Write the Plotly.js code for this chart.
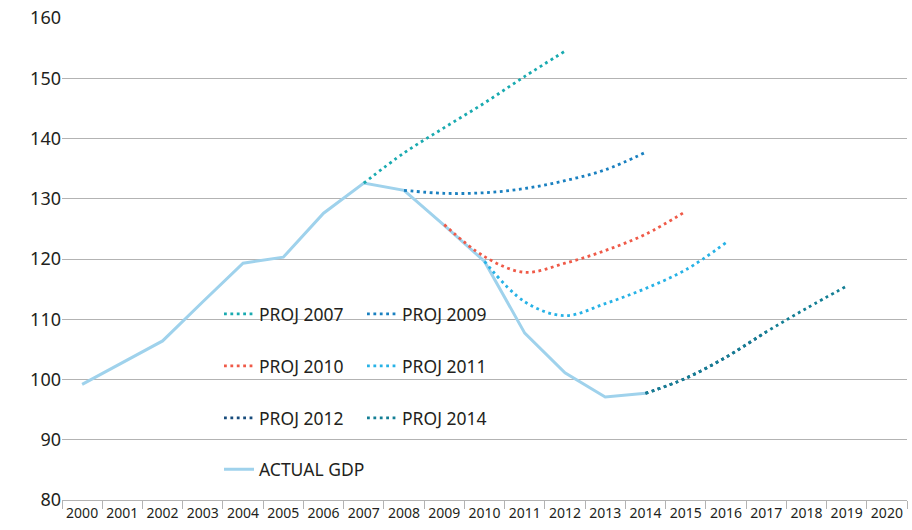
<!DOCTYPE html>
<html>
<head>
<meta charset="utf-8">
<script src="https://cdn.plot.ly/plotly-3.0.1.min.js"></script>
<style>html,body{margin:0;padding:0;background:#fff;}#chart{width:912px;height:530px;}</style>
</head>
<body>
<div id="chart"></div>
<script>
const years = ['2000','2001','2002','2003','2004','2005','2006','2007','2008','2009','2010','2011','2012','2013','2014','2015','2016','2017','2018','2019','2020'];

const actualYears = ['2000','2001','2002','2003','2004','2005','2006','2007','2008','2009','2010','2011','2012','2013','2014'];
const actualGDP   = [99.2, 102.8, 106.4, 112.9, 119.3, 120.3, 127.6, 132.6, 131.4, 125.6, 119.6, 107.7, 101.1, 97.1, 97.7];

const proj2007Years = ['2007','2008','2009','2010','2011','2012'];
const proj2007      = [132.6, 137.6, 141.8, 145.9, 150.3, 154.5];

const proj2009Years = ['2008','2009','2010','2011','2012','2013','2014'];
const proj2009      = [131.4, 130.9, 131.0, 131.7, 133.0, 134.8, 137.7];

const proj2010Years = ['2009','2010','2011','2012','2013','2014','2015'];
const proj2010      = [125.7, 120.4, 117.8, 119.3, 121.4, 124.1, 127.9];

const proj2011Years = ['2010','2011','2012','2013','2014','2015','2016'];
const proj2011      = [119.6, 112.9, 110.6, 112.6, 115.1, 118.2, 122.7];

const proj2012Years = ['2014','2015','2016','2017'];
const proj2012      = [97.7, 100.2, 103.7, 107.9];

const proj2014Years = ['2014','2015','2016','2017','2018','2019'];
const proj2014      = [97.7, 100.2, 103.7, 107.9, 111.8, 115.5];

const FONT = 'Noto Sans, DejaVu Sans, sans-serif';
const TXT = '#231f20';
const DOT = '2.8px,3.6px';

function proj(name, xs, ys, color, legend) {
  return {
    type: 'scatter', mode: 'lines', name: name, x: xs, y: ys,
    line: {color: color, width: 2.8, dash: DOT, shape: 'spline', smoothing: 1},
    legend: legend, hoverinfo: 'x+y+name'
  };
}

const traces = [
  {type:'scatter', mode:'lines', name:'ACTUAL GDP', x: actualYears, y: actualGDP,
   line:{color:'#9fd2ec', width:3}, legend:'legend4'},
  proj('PROJ 2007', proj2007Years, proj2007, '#19aab0', 'legend'),
  proj('PROJ 2009', proj2009Years, proj2009, '#1a80c0', 'legend'),
  proj('PROJ 2010', proj2010Years, proj2010, '#ef5a48', 'legend2'),
  proj('PROJ 2011', proj2011Years, proj2011, '#27b2e6', 'legend2'),
  proj('PROJ 2012', proj2012Years, proj2012, '#184c7c', 'legend3'),
  proj('PROJ 2014', proj2014Years, proj2014, '#137e94', 'legend3')
];

function leg(y, ew) {
  return {orientation:'h', x:0.1858, xanchor:'left', y:y, yanchor:'middle',
          entrywidth:ew, bgcolor:'rgba(0,0,0,0)', borderwidth:0,
          font:{family:FONT, size:17.5, color:TXT}, itemclick:false, itemdoubleclick:false};
}

const layout = {
  width: 912, height: 530,
  margin: {l: 62, r: 5, t: 18, b: 30, pad: 0},
  paper_bgcolor: '#ffffff', plot_bgcolor: '#ffffff',
  font: {family: FONT, color: TXT},
  showlegend: true,
  xaxis: {
    type: 'category', categoryorder: 'array', categoryarray: years,
    range: [-0.5, 20.5], tickson: 'boundaries', ticks: 'outside', ticklen: 8,
    tickcolor: '#b3b3b3', tickwidth: 1, showgrid: false, showline: true,
    linecolor: '#b3b3b3', linewidth: 1, tickangle: 0, zeroline: false,
    tickfont: {family: FONT, size: 14, color: TXT}, fixedrange: true
  },
  yaxis: {
    range: [80, 160], dtick: 10, tick0: 80, showgrid: true, gridcolor: '#b3b3b3',
    gridwidth: 1, zeroline: false, showline: false, ticks: '',
    tickfont: {family: FONT, size: 18, color: TXT}, fixedrange: true
  },
  legend: leg(0.3859, 98),
  legend2: leg(0.278, 98),
  legend3: leg(0.170, 98),
  legend4: leg(0.0633, 160)
};

Plotly.newPlot('chart', traces, layout, {displayModeBar: false, staticPlot: false});
</script>
</body>
</html>
